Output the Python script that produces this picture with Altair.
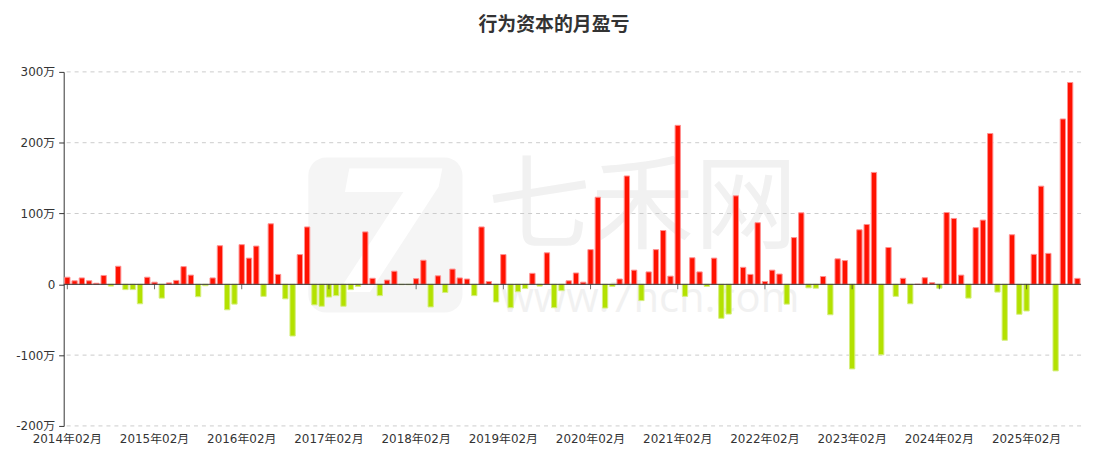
import altair as alt
import pandas as pd

title_text = "行为资本的月盈亏"

# monthly profit/loss in 万, from 2014年02月 to 2025年09月
values = [
    10, 5, 9, 5, 1.5, 12.5, -2.5, 25.5, -7.5, -7.5, -27.5,            # 2014-02 .. 2014-12
    10, 3, -19.5, 2, 5.5, 25, 13, -17.5, -2, 9, 54.5, -36,            # 2015
    -28, 56, 37, 54, -17, 85.5, 14, -20.5, -73, 42, 81, -29,          # 2016
    -31, -18, -16, -31, -7.5, -3, 74, 8.5, -16, 6, 18.5, -0.5,        # 2017
    -0.5, 8, 34, -32, 12, -11.5, 21.5, 9, 7.5, -16, 81, 4,            # 2018
    -25, 42, -33, -10.5, -6, 15.5, -2.5, 44.5, -33, -9, 5, 16,        # 2019
    3, 49, 123, -33.5, -3, 7.5, 153, 20, -23, 17.5, 49, 76,           # 2020
    11.5, 224.5, -17, 37.5, 17.5, -3, 37, -48, -42, 125, 24, 14,      # 2021
    87, 4, 20, 14.5, -28, 66, 101, -5, -5.5, 11, -43, 36,             # 2022
    33.5, -119.5, 77, 84.5, 158, -99.5, 52, -17, 8.5, -27.5, 0, 9.3,  # 2023
    2.3, -5.5, 101.4, 93, 13, -19.5, 80, 90.7, 213, -11, -79, 70,     # 2024
    -42.3, -37.7, 42.3, 138.6, 43.7, -122.3, 233.5, 285, 8.4,         # 2025
]
months = [f"{2014 + (1 + i) // 12}年{(1 + i) % 12 + 1:02d}月" for i in range(len(values))]
feb_labels = [m for m in months if m.endswith("02月")]
y_ticks = [-200, -100, 0, 100, 200, 300]
grid_vals = [-200, -100, 100, 200, 300]

df = pd.DataFrame({
    "month": months,
    "value": values,
    "sign": ["pos" if v >= 0 else "neg" for v in values],
})

W, H = 1023, 356
FONT = "DejaVu Sans, Noto Sans CJK SC"

x_scale = alt.Scale(paddingInner=0.27, paddingOuter=0.135)
y_scale = alt.Scale(domain=[-200, 300], nice=False, zero=True)

x_enc = alt.X(
    "month:N", sort=months, scale=x_scale,
    axis=alt.Axis(values=feb_labels, domain=False, ticks=False, labelAngle=0,
                  labelPadding=8, labelFontSize=12, labelColor="#333",
                  labelOverlap=False, labelFont=FONT, title=None, grid=False),
)
y_enc = alt.Y(
    "value:Q", scale=y_scale,
    axis=alt.Axis(values=y_ticks, grid=False, domainColor="#333",
                  tickColor="#333", tickSize=5, labelPadding=4,
                  labelFontSize=12, labelColor="#333", labelFont=FONT,
                  labelExpr="datum.value == 0 ? '0' : datum.value + '万'",
                  title=None),
)

one = pd.DataFrame({"t": [title_text]})

logo = alt.Chart(one).mark_rect(cornerRadius=18, color="#f5f5f5").encode(
    x=alt.value(246), x2=alt.value(401), y=alt.value(86), y2=alt.value(242)
)
logo7 = alt.Chart(pd.DataFrame({"t": ["7"]})).mark_text(
    font="DejaVu Sans", fontSize=170, fontWeight="bold", color="white",
    fontStyle="italic", baseline="middle", align="center"
).encode(text="t:N", x=alt.value(322), y=alt.value(170))
wm1 = alt.Chart(pd.DataFrame({"t": ["七禾网"]})).mark_text(
    font="Noto Sans CJK SC", fontSize=104, color="#f1f1f1",
    baseline="middle", align="center"
).encode(text="t:N", x=alt.value(582), y=alt.value(139))
wm2 = alt.Chart(pd.DataFrame({"t": ["www.7hcn.com"]})).mark_text(
    font="Open Sans", fontSize=42, color="#f1f1f1",
    baseline="alphabetic", align="center"
).encode(text="t:N", x=alt.value(590), y=alt.value(241))

grid = alt.Chart(pd.DataFrame({"value": grid_vals})).mark_rule(
    strokeDash=[4, 4], color="#cccccc", strokeWidth=1
).encode(y=alt.Y("value:Q", scale=y_scale))

bars = alt.Chart(df).mark_bar(strokeWidth=1).encode(
    x=x_enc,
    y=y_enc,
    fill=alt.Fill("sign:N", scale=alt.Scale(domain=["pos", "neg"], range=["#ff1100", "#b3e100"]), legend=None),
    stroke=alt.Stroke("sign:N", scale=alt.Scale(domain=["pos", "neg"], range=["#ff9090", "#d6ef80"]), legend=None),
)

zero = alt.Chart(one).mark_rule(color="#333", strokeWidth=1).encode(y=alt.datum(0))

zticks = alt.Chart(df).transform_filter(
    alt.FieldOneOfPredicate(field="month", oneOf=feb_labels)
).mark_tick(orient="vertical", size=5, thickness=1, color="#333", yOffset=2.5).encode(
    x=alt.X("month:N", sort=months, scale=x_scale), y=alt.datum(0)
)

title = alt.Chart(one).mark_text(
    font="Noto Sans CJK SC", fontSize=19, fontWeight="bold", color="#333",
    baseline="middle", align="center"
).encode(text="t:N", x=alt.value(493), y=alt.value(-47))

chart = alt.layer(logo, logo7, wm1, wm2, grid, bars, zero, zticks, title).properties(
    width=W, height=H,
    autosize=alt.AutoSizeParams(type="none"),
    padding={"left": 56, "top": 63, "right": 10, "bottom": 30},
).configure(background="white").configure_view(stroke=None)

chart.save("out.html", embed_options={"renderer": "svg", "actions": False})
